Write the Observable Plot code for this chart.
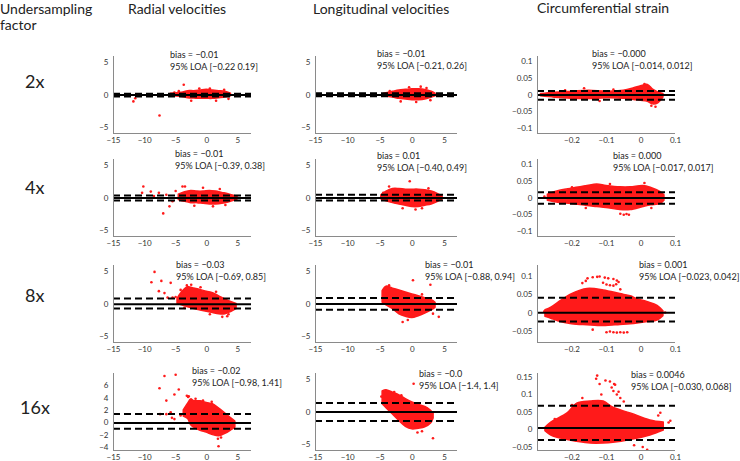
<!DOCTYPE html>
<html><head><meta charset="utf-8">
<script src="https://cdn.jsdelivr.net/npm/d3@7"></script>
<script src="https://cdn.jsdelivr.net/npm/@observablehq/plot@0.6"></script>
<style>
body{margin:0;background:#fff;}
#chart{position:relative;width:740px;height:461px;overflow:hidden;font-family:Lato,"Open Sans",sans-serif;color:#222;}
.t{position:absolute;white-space:nowrap;line-height:1;transform:translateY(-50%);}
.title{font-size:14px;}
.row{font-size:18px;}
.ann{font-size:9px;}
.panel{position:absolute;}
</style></head><body><div id="chart"></div>
<script>
// ---------------- DATA ----------------
const columnTitles = ["Radial velocities", "Longitudinal velocities", "Circumferential strain"];
const factorLabels = ["2x", "4x", "8x", "16x"];
const biasValues = [[-0.01, -0.01, -0.000], [-0.01, 0.01, 0.000], [-0.03, -0.01, 0.001], [-0.02, -0.0, 0.0046]];
const loaLower = [[-0.22, -0.21, -0.014], [-0.39, -0.40, -0.017], [-0.69, -0.88, -0.023], [-0.98, -1.4, -0.030]];
const loaUpper = [[0.19, 0.26, 0.012], [0.38, 0.49, 0.017], [0.85, 0.94, 0.042], [1.41, 1.4, 0.068]];
const biasLabels = [
  ["bias = −0.01", "bias = −0.01", "bias = −0.000"],
  ["bias = −0.01", "bias = 0.01", "bias = 0.000"],
  ["bias = −0.03", "bias = −0.01", "bias = 0.001"],
  ["bias = −0.02", "bias = −0.0", "bias = 0.0046"]];
const loaLabels = [
  ["95% LOA [−0.22 0.19]", "95% LOA [−0.21, 0.26]", "95% LOA [−0.014, 0.012]"],
  ["95% LOA [−0.39, 0.38]", "95% LOA [−0.40, 0.49]", "95% LOA [−0.017, 0.017]"],
  ["95% LOA [−0.69, 0.85]", "95% LOA [−0.88, 0.94]", "95% LOA [−0.023, 0.042]"],
  ["95% LOA [−0.98, 1.41]", "95% LOA [−1.4, 1.4]", "95% LOA [−0.030, 0.068]"]];
const velocityTicksX = [-15, -10, -5, 0, 5];
const strainTicksX = [-0.2, -0.1, 0, 0.1];
const velocityTicksY = [-5, 0, 5];
const radial16TicksY = [-4, -2, 0, 2, 4, 6];
const strainTicksY = [-0.1, -0.05, 0, 0.05, 0.1];
const strain8TicksY = [-0.05, 0, 0.05, 0.1];
const strain16TicksY = [-0.05, 0, 0.05, 0.1, 0.15];

// dense point clouds: [mean, lower difference, upper difference]
const cloudRad2 = [[-5.8,-0.2,0.2],[-4,-0.3,0.35],[-3,-0.5,0.6],[-2,-0.55,0.6],[-1,-0.6,0.7],[0,-0.6,0.8],[1,-0.6,0.7],[2,-0.5,0.6],[3,-0.4,0.5],[3.9,-0.2,0.2]];
const cloudRad4 = [[-4.5,-0.3,0.5],[-3.5,-0.6,0.9],[-2.5,-0.8,1.1],[-1.5,-0.8,1.0],[-0.5,-0.9,1.0],[0.5,-1.0,1.1],[1.5,-1.0,1.0],[2.5,-0.9,0.8],[3.5,-0.7,0.6],[4.5,-0.4,0.3],[5,-0.2,0.1]];
const cloudRad8 = [[-4.7,0,0.8],[-4,-0.2,1.8],[-3,-0.5,2.6],[-2,-0.8,2.4],[-1,-1.0,2.2],[0,-1.2,1.9],[1,-1.4,1.7],[2,-1.6,1.2],[3,-1.6,0.7],[4,-1.2,0.3],[4.8,-0.8,0]];
const cloudRad16 = [[-3.7,1.0,2.0],[-3,0.6,3.1],[-2.5,-0.4,3.8],[-2,-0.8,3.5],[-1,-1.3,3.5],[0,-1.6,3.2],[1,-2.0,3.0],[2,-2.2,2.3],[3,-1.8,1.5],[4,-1.2,0.7],[4.6,-0.8,0.2]];
const cloudLong2 = [[-4.4,-0.2,0.2],[-3,-0.4,0.5],[-2,-0.6,0.7],[-1,-0.7,0.8],[0,-0.8,0.9],[1,-0.8,0.9],[2,-0.7,0.8],[3,-0.4,0.5],[3.6,-0.2,0.2]];
const cloudLong4 = [[-4.8,-0.2,0.4],[-4,-0.5,1.0],[-3,-0.8,1.4],[-2,-1.0,1.4],[-1,-1.2,1.3],[0,-1.4,1.3],[1,-1.4,1.3],[2,-1.2,1.2],[3,-1.0,1.0],[4,-0.6,0.6],[4.7,-0.2,0.2]];
const cloudLong8 = [[-4.6,0.2,2.0],[-4,-0.2,2.7],[-3,-0.8,2.4],[-2,-1.6,2.1],[-1,-2.0,1.8],[0,-2.2,1.5],[1,-1.9,1.2],[2,-1.5,0.9],[3,-1.0,0.6],[3.6,-0.6,0.2]];
const cloudLong16 = [[-4.6,1.2,3.2],[-4,0.6,3.4],[-3,-0.4,3.0],[-2,-1.4,2.6],[-1,-2.3,2.0],[0,-2.7,1.5],[1,-2.6,1.1],[2,-2.4,0.8],[2.9,-1.8,0.2],[3.3,-1.0,-0.2]];
const cloudStr2 = [[-0.29,-0.004,0.003],[-0.25,-0.008,0.007],[-0.2,-0.011,0.01],[-0.15,-0.012,0.013],[-0.1,-0.01,0.01],[-0.05,-0.011,0.013],[-0.02,-0.015,0.02],[0,-0.017,0.026],[0.02,-0.02,0.03],[0.035,-0.028,0.016],[0.05,-0.025,0.008],[0.065,-0.008,0.003]];
const cloudStr4 = [[-0.27,-0.008,0.01],[-0.24,-0.014,0.02],[-0.2,-0.018,0.028],[-0.155,-0.024,0.036],[-0.127,-0.027,0.04],[-0.1,-0.03,0.036],[-0.06,-0.036,0.032],[-0.03,-0.036,0.032],[0.007,-0.027,0.036],[0.03,-0.022,0.03],[0.056,-0.018,0.018],[0.068,-0.008,0.008]];
const cloudStr8 = [[-0.277,-0.01,0.008],[-0.26,-0.015,0.015],[-0.24,-0.022,0.028],[-0.2,-0.03,0.052],[-0.155,-0.033,0.066],[-0.108,-0.035,0.062],[-0.06,-0.032,0.052],[-0.03,-0.03,0.046],[-0.01,-0.028,0.038],[0.02,-0.024,0.03],[0.048,-0.02,0.02],[0.065,-0.008,0.005]];
const cloudStr16 = [[-0.277,-0.005,0.005],[-0.26,-0.017,0.02],[-0.213,-0.03,0.046],[-0.185,-0.035,0.074],[-0.146,-0.04,0.08],[-0.108,-0.04,0.08],[-0.08,-0.038,0.062],[-0.03,-0.03,0.046],[0.027,-0.017,0.026],[0.066,-0.003,0.02]];

// isolated points: [mean, difference]
const outRad2 = [[-3.7,1.6],[0.5,1.0],[-7.6,-3.2],[-11.8,-1.0],[-11.5,-0.5],[-4.5,0.6],[-2.5,-0.9],[1.5,-0.9],[2.8,0.8],[-1.2,1.0],[3.5,-0.6],[-5.2,0.4]];
const outRad4 = [[-10.2,1.8],[-10.4,0.8],[-7,-2.4],[-6,-1.3],[-9,1],[-7.7,0.8],[-3.9,1.8],[-3.5,1.8],[-0.6,1.6],[2.1,1.4],[-5,1.1],[-8.5,0.3],[-5.5,-0.5],[-2,-1.2],[1,-1.3],[3,-1.1],[-6.5,0.5]];
const outRad8 = [[-8.4,5.0],[-8.9,3.4],[-7.3,3.6],[-5.8,3.3],[-7.7,2.0],[-6.8,1.7],[-5.5,1.0],[-6.3,1.0],[-5,1.1],[-3.2,2.9],[-1,2.6],[1.5,1.9],[3.5,-1.6],[3.3,-1.9],[-2.5,3.0],[-4.2,2.2],[0.5,-1.6],[2.5,-2.0],[-3.6,-0.6]];
const outRad16 = [[-6.8,7.6],[-5,7.8],[-7.6,5.6],[-6.5,3.6],[-5.2,4.6],[-4.5,5.4],[-5.8,1.7],[-6.5,1.4],[-3.2,4.4],[-3,4.2],[-5.2,0.6],[-5.6,0.8],[1.9,-3.8],[-2.9,4.3],[-0.6,3.6],[1.8,-2.6],[2.3,-2.4],[-7.5,1.4],[-4.2,1.2],[0.8,3.4],[-1.8,3.9]];
const outLong2 = [[1.3,1.3],[-0.5,1.2],[2.2,1.1],[-1.8,-1.0],[0.6,-1.1],[-3.5,0.6],[2.8,-0.8]];
const outLong4 = [[-0.4,2.6],[-3.6,1.8],[-1.5,-1.6],[0.5,-1.8],[2.5,1.5],[1.5,-1.6],[-4.5,0.8]];
const outLong8 = [[0.1,3.7],[-1.5,-2.8],[4.1,-2.0],[2.8,3.0],[-0.7,-2.5],[-3.6,2.9],[1.5,1.5],[3.2,-1.5]];
const outLong16 = [[0.2,4.4],[3.2,-4.1],[-1.7,2.6],[-2.8,3.1],[1.5,-3.0],[0.8,-3.2],[-4.8,2.4]];
const outStr2 = [[-0.165,0.02],[0.01,0.033],[0.042,-0.035],[-0.12,-0.018],[-0.22,0.014],[-0.08,0.016],[0.03,-0.032]];
const outStr4 = [[-0.05,-0.05],[-0.042,-0.048],[-0.035,-0.05],[-0.06,-0.047],[-0.14,0.035],[-0.28,0.004],[0.01,0.045],[-0.09,0.042],[-0.16,-0.03],[-0.2,0.032],[0.03,-0.03]];
const outStr8 = [[-0.17,0.082],[-0.155,0.095],[-0.14,0.098],[-0.127,0.099],[-0.12,0.1],[-0.105,0.097],[-0.095,0.095],[-0.08,0.093],[-0.07,0.089],[-0.065,0.085],[-0.072,0.079],[-0.08,0.075],[-0.09,0.076],[-0.1,0.078],[-0.11,0.083],[-0.16,0.088],[-0.1,-0.052],[-0.09,-0.05],[-0.08,-0.052],[-0.07,-0.053],[-0.06,-0.052],[-0.05,-0.053],[-0.04,-0.052],[-0.14,-0.045],[-0.28,0.005],[-0.06,0.065],[0.07,0.002]];
const outStr16 = [[-0.127,0.154],[-0.13,0.145],[-0.103,0.14],[-0.09,0.137],[-0.075,0.128],[-0.065,0.108],[-0.05,0.08],[-0.085,0.12],[-0.08,0.11],[-0.07,0.1],[-0.06,0.09],[-0.078,0.13],[-0.12,0.13],[-0.115,0.1],[0.056,0.048],[0.05,0.04],[0.085,0.025],[0.08,0.02],[-0.02,-0.045],[0.018,-0.058],[0.005,-0.05],[-0.25,0.03],[-0.2,0.07],[-0.17,0.09]];

// ---------------- LAYOUT ----------------
const clouds = [[cloudRad2, cloudLong2, cloudStr2],[cloudRad4, cloudLong4, cloudStr4],[cloudRad8, cloudLong8, cloudStr8],[cloudRad16, cloudLong16, cloudStr16]];
const outliers = [[outRad2, outLong2, outStr2],[outRad4, outLong4, outStr4],[outRad8, outLong8, outStr8],[outRad16, outLong16, outStr16]];
const rowBoxes = [[56,133],[159,236],[265,342],[373,450]];
const colBoxes = [[113,251],[315,457],[537,675]];
const xDomains = [[-15,7.2],[-15,7],[-0.3,0.1]];
const yDomains = [
  [[-6,6],[-6,6],[-0.115,0.115]],
  [[-6,6],[-6,6],[-0.115,0.115]],
  [[-6,6],[-6,6],[-0.08,0.13]],
  [[-4.5,8],[-6,6],[-0.06,0.16]]];
const yTicks = [
  [velocityTicksY, velocityTicksY, strainTicksY],
  [velocityTicksY, velocityTicksY, strainTicksY],
  [velocityTicksY, velocityTicksY, strain8TicksY],
  [radial16TicksY, velocityTicksY, strain16TicksY]];
const annPos = [
  [[170,54],[377,53],[592,53]],
  [[175,153],[377,155],[613,155]],
  [[176,264],[425,264],[639,264]],
  [[192,370],[419,373],[631,374]]];
const titlePos = [[128,9],[313,9],[537,8]];
const rowPos = [[25,81],[25,187],[25,295],[20,407]];

const chart = document.getElementById("chart");
function addText(txt, cls, x, y) {
  const d = document.createElement("div");
  d.className = "t " + cls; d.textContent = txt;
  d.style.left = x + "px"; d.style.top = y + "px";
  chart.appendChild(d);
}
addText("Undersampling", "title", 0, 9);
addText("factor", "title", 0, 25);
columnTitles.forEach((t, i) => addText(t, "title", titlePos[i][0], titlePos[i][1]));
factorLabels.forEach((t, i) => addText(t, "row", rowPos[i][0], rowPos[i][1]));

const fmt = d3.format("");
const ML = 30, MR = 8, MT = 8, MB = 18;
const RED = "#ff1a1a";
for (let r = 0; r < 4; r++) {
  for (let c = 0; c < 3; c++) {
    const [top, bottom] = rowBoxes[r];
    const [left, right] = colBoxes[c];
    const xd = xDomains[c], yd = yDomains[r][c];
    const cloud = clouds[r][c].map(([x, lo, hi]) => ({x, lo, hi}));
    const pts = outliers[r][c].map(([x, y]) => ({x, y}));
    const svg = Plot.plot({
      width: right - left + ML + MR,
      height: bottom - top + MT + MB,
      marginLeft: ML, marginRight: MR, marginTop: MT, marginBottom: MB,
      style: {fontFamily: "Lato, 'Open Sans', sans-serif", fontSize: "8px", color: "#333", background: "transparent", overflow: "visible"},
      x: {domain: xd, label: null},
      y: {domain: yd, label: null},
      marks: [
        Plot.areaY(cloud, {x: "x", y1: "lo", y2: "hi", fill: RED, stroke: RED, strokeWidth: 1.5, strokeLinejoin: "round", curve: "catmull-rom"}),
        Plot.dot(pts, {x: "x", y: "y", r: 1.3, fill: RED}),
        Plot.ruleY([biasValues[r][c]], {stroke: "#000", strokeWidth: 2}),
        Plot.ruleY([loaLower[r][c], loaUpper[r][c]], {stroke: "#000", strokeWidth: 2, strokeDasharray: "7,4"}),
        Plot.ruleX([xd[0]], {stroke: "#8a8a8a", strokeWidth: 1}),
        Plot.ruleY([yd[0]], {stroke: "#8a8a8a", strokeWidth: 1}),
        Plot.axisX({ticks: c === 2 ? strainTicksX : velocityTicksX, tickFormat: fmt, tickSize: 0, tickPadding: 4, label: null}),
        Plot.axisY({ticks: yTicks[r][c], tickFormat: fmt, tickSize: 0, tickPadding: 5, label: null})
      ]
    });
    const wrap = document.createElement("div");
    wrap.className = "panel";
    wrap.style.left = (left - ML) + "px";
    wrap.style.top = (top - MT) + "px";
    wrap.appendChild(svg);
    chart.appendChild(wrap);
    const [ax, ay] = annPos[r][c];
    addText(biasLabels[r][c], "ann", ax, ay);
    addText(loaLabels[r][c], "ann", ax, ay + 12);
  }
}
</script>
</body></html>
